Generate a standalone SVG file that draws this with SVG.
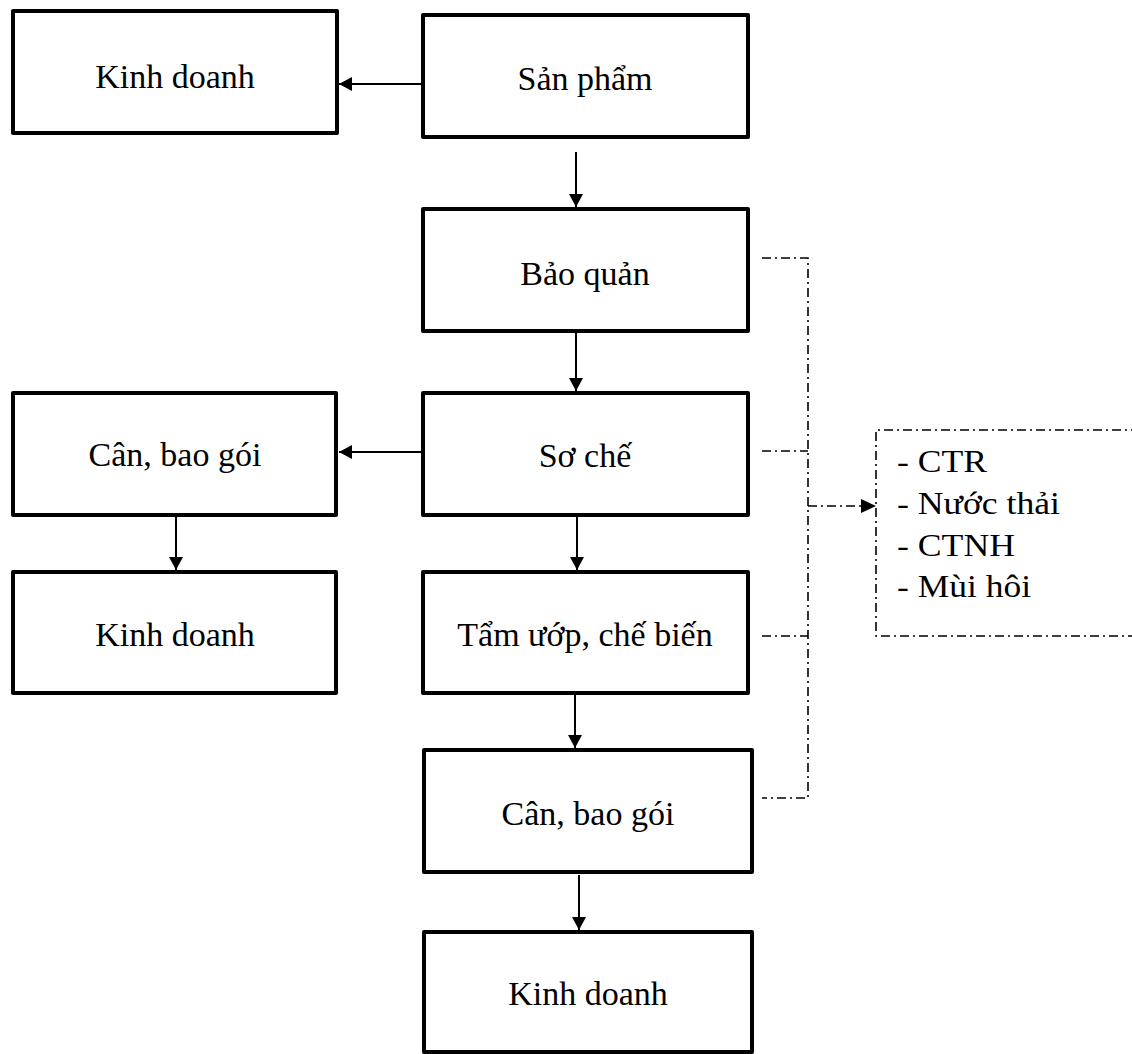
<svg xmlns="http://www.w3.org/2000/svg" width="1132" height="1054" viewBox="0 0 1132 1054">
<style>
.box{fill:#fff;stroke:#000;stroke-width:4;stroke-linejoin:round}
.lbl{font-family:"Liberation Serif","Times New Roman",serif;font-size:34px;fill:#000;text-anchor:middle}
.side{font-family:"Liberation Serif","Times New Roman",serif;font-size:31px;fill:#000}
.arr{stroke:#000;stroke-width:2;fill:none}
.dd{stroke:#000;stroke-width:1.6;fill:none;stroke-dasharray:9 4 2 4}
</style>
<defs>
<marker id="ah" markerWidth="14" markerHeight="14" refX="13" refY="7" orient="auto" markerUnits="userSpaceOnUse">
<path d="M0,0 L13,7 L0,14 Z" fill="#000"/>
</marker>
<marker id="ah2" markerWidth="16" markerHeight="14" refX="15" refY="7" orient="auto" markerUnits="userSpaceOnUse">
<path d="M0,0 L15,7 L0,14 Z" fill="#000"/>
</marker>
</defs>
<rect x="0" y="0" width="1132" height="1054" fill="#fff"/>
<g id="connectors">
<line class="arr" x1="421" y1="84" x2="339" y2="84" marker-end="url(#ah)"/>
<line class="arr" x1="576" y1="152" x2="576" y2="207" marker-end="url(#ah)"/>
<line class="arr" x1="576" y1="333" x2="576" y2="391" marker-end="url(#ah)"/>
<line class="arr" x1="421" y1="452" x2="339" y2="452" marker-end="url(#ah)"/>
<line class="arr" x1="176" y1="517" x2="176" y2="570" marker-end="url(#ah)"/>
<line class="arr" x1="577" y1="517" x2="577" y2="570" marker-end="url(#ah)"/>
<line class="arr" x1="575" y1="695" x2="575" y2="748" marker-end="url(#ah)"/>
<line class="arr" x1="579" y1="875" x2="579" y2="930" marker-end="url(#ah)"/>
<path class="dd" d="M762,258 H808 V798 H762"/>
<line class="dd" x1="762" y1="451" x2="808" y2="451"/>
<line class="dd" x1="762" y1="636" x2="808" y2="636"/>
<line class="dd" x1="808" y1="506" x2="876" y2="506" marker-end="url(#ah2)"/>
</g>
<g id="n-kd1"><rect class="box" x="13" y="11" width="324" height="122"/><text class="lbl" x="175" y="88">Kinh doanh</text></g>
<g id="n-sp"><rect class="box" x="423" y="15" width="325" height="122"/><text class="lbl" x="585" y="90">Sản phẩm</text></g>
<g id="n-bq"><rect class="box" x="423" y="209" width="325" height="122"/><text class="lbl" x="585" y="285">Bảo quản</text></g>
<g id="n-sc"><rect class="box" x="423" y="393" width="325" height="122"/><text class="lbl" x="585" y="467">Sơ chế</text></g>
<g id="n-cbg1"><rect class="box" x="13" y="393" width="323" height="122"/><text class="lbl" x="175" y="466">Cân, bao gói</text></g>
<g id="n-kd2"><rect class="box" x="13" y="572" width="323" height="121"/><text class="lbl" x="175" y="646">Kinh doanh</text></g>
<g id="n-tu"><rect class="box" x="423" y="572" width="325" height="121"/><text class="lbl" x="585" y="646">Tẩm ướp, chế biến</text></g>
<g id="n-cbg2"><rect class="box" x="424" y="750" width="328" height="122"/><text class="lbl" x="588" y="825">Cân, bao gói</text></g>
<g id="n-kd3"><rect class="box" x="424" y="932" width="328" height="120"/><text class="lbl" x="588" y="1005">Kinh doanh</text></g>
<g id="n-waste">
<path class="dd" d="M1140,430 H876 V636 H1140"/>
<text class="side" x="897" y="472" textLength="90" lengthAdjust="spacingAndGlyphs">- CTR</text>
<text class="side" x="897" y="514" textLength="163" lengthAdjust="spacingAndGlyphs">- Nước thải</text>
<text class="side" x="897" y="556" textLength="118" lengthAdjust="spacingAndGlyphs">- CTNH</text>
<text class="side" x="897" y="597" textLength="134" lengthAdjust="spacingAndGlyphs">- Mùi hôi</text>
</g>
</svg>
